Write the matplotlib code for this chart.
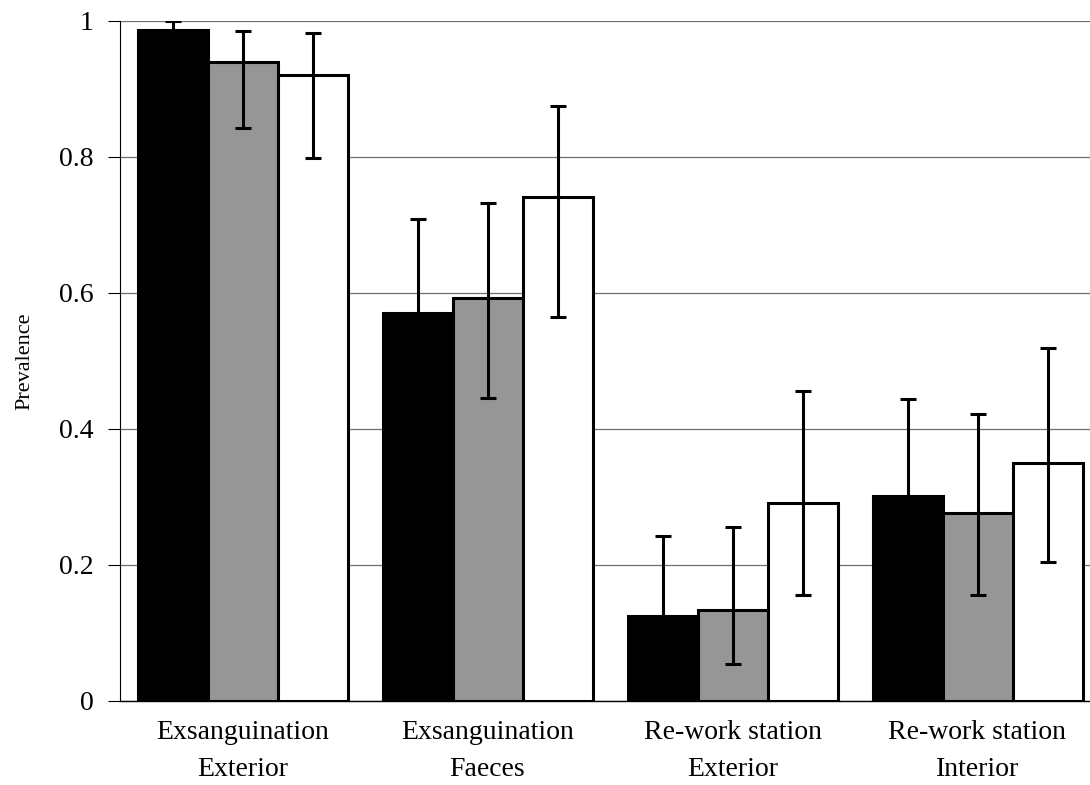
import matplotlib
matplotlib.use("Agg")
import matplotlib.pyplot as plt
import numpy as np

plt.rcParams['font.family'] = ['Liberation Serif', 'DejaVu Serif']

categories = ["Exsanguination\nExterior", "Exsanguination\nFaeces",
              "Re-work station\nExterior", "Re-work station\nInterior"]
s1 = [0.987, 0.570, 0.125, 0.302]
s1_lo = [0.95, 0.43, 0.01, 0.16]
s1_hi = [1.000, 0.709, 0.242, 0.444]
s2 = [0.940, 0.592, 0.134, 0.276]
s2_lo = [0.843, 0.445, 0.054, 0.156]
s2_hi = [0.985, 0.732, 0.256, 0.422]
s3 = [0.921, 0.741, 0.291, 0.350]
s3_lo = [0.798, 0.564, 0.156, 0.205]
s3_hi = [0.983, 0.875, 0.456, 0.519]
yticks = [0, 0.2, 0.4, 0.6, 0.8, 1]
ytick_labels = ["0", "0.2", "0.4", "0.6", "0.8", "1"]

fig = plt.figure(figsize=(10.9, 7.85), dpi=100)
ax = fig.add_axes([120/1090, 84/785, 970/1090, 680/785])

x = np.arange(len(categories))
w = 70/245
series = [(s1, s1_lo, s1_hi, 'black'), (s2, s2_lo, s2_hi, '#969696'), (s3, s3_lo, s3_hi, 'white')]
for i, (vals, lo, hi, col) in enumerate(series):
    pos = x + (i - 1) * w
    vals = np.array(vals); lo = np.array(lo); hi = np.array(hi)
    ax.bar(pos, vals, width=w, color=col, edgecolor='black', linewidth=2.2, zorder=2)
    ax.errorbar(pos, vals, yerr=[vals - lo, hi - vals], fmt='none', ecolor='black',
                elinewidth=2.2, capsize=6, capthick=2.2, zorder=3)

ax.set_xlim(-0.5, 3.5 - 10/245)
ax.set_ylim(0, 1)
ax.set_yticks(yticks)
ax.set_yticklabels(ytick_labels, fontsize=20)
ax.set_xticks(x)
ax.set_xticklabels(categories, fontsize=20, linespacing=1.6)
ax.tick_params(axis='x', length=0, pad=14)
ax.tick_params(axis='y', length=9, width=0.8, direction='out', pad=10)
ax.yaxis.grid(True, color='#6e6e6e', linewidth=0.9, zorder=0)
ax.set_axisbelow(True)
for s in ['top', 'right']:
    ax.spines[s].set_visible(False)
ax.spines['left'].set_linewidth(0.8)
ax.spines['bottom'].set_linewidth(1.0)
ax.set_ylabel("Prevalence", fontsize=16)
ax.yaxis.set_label_coords(-86/970, 0.5)

fig.savefig("out.png", dpi=100)
